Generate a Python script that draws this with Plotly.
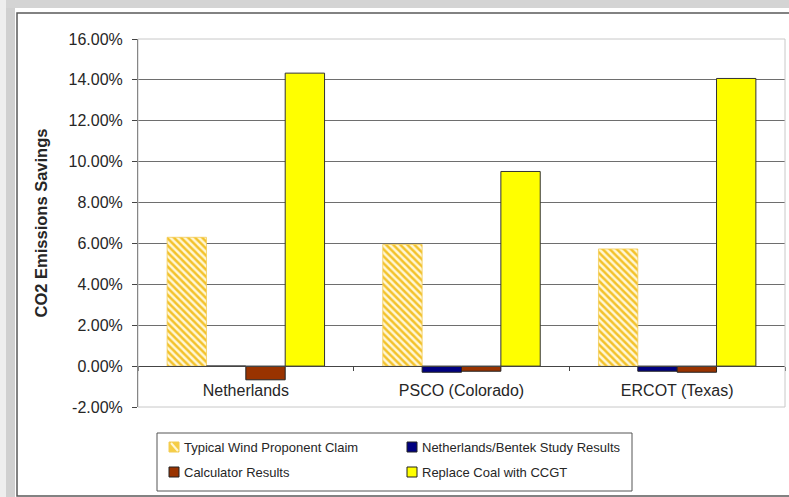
import plotly.graph_objects as go

# Data: CO2 emissions savings (%) by grid region and scenario
regions = ["Netherlands", "PSCO (Colorado)", "ERCOT (Texas)"]
wind_claim = [6.3, 5.95, 5.73]
bentek_study = [0.0, -0.3, -0.25]
calculator = [-0.67, -0.25, -0.3]
coal_to_ccgt = [14.33, 9.52, 14.07]

series_names = [
    "Typical Wind Proponent Claim",
    "Netherlands/Bentek Study Results",
    "Calculator Results",
    "Replace Coal with CCGT",
]
y_ticks = [-2, 0, 2, 4, 6, 8, 10, 12, 14, 16]
y_tick_text = [f"{v:.2f}%" for v in y_ticks]
y_title = "CO2 Emissions Savings"

# Canvas geometry
W, H = 789, 497
ML, MR, MT, MB = 138, 4, 39, 90
PW, PH = W - ML - MR, H - MT - MB
Y_MIN, Y_MAX = -2, 16

FONT = "Arial, Liberation Sans, sans-serif"
TXT = "#262626"


def px_x(px):
    return (px - ML) / PW


def px_y(py):
    return (H - MB - py) / PH


fig = go.Figure()
fig.add_bar(
    name=series_names[0], x=regions, y=wind_claim,
    marker=dict(color="#FFF7D6",
                pattern=dict(shape="\\", fgcolor="#F3C22B", bgcolor="#FFF7D6",
                             size=5, solidity=0.5, fillmode="replace"),
                line=dict(color="#F2CC55", width=0.8)),
)
fig.add_bar(
    name=series_names[1], x=regions, y=bentek_study,
    marker=dict(color="#000080", line=dict(color="#222222", width=1)),
)
fig.add_bar(
    name=series_names[2], x=regions, y=calculator,
    marker=dict(color="#993300", line=dict(color="#222222", width=1)),
)
fig.add_bar(
    name=series_names[3], x=regions, y=coal_to_ccgt,
    marker=dict(color="#FFFF00", line=dict(color="#333333", width=1)),
)

shapes = []
# outer chart frame with soft shadow on the top and left
shapes.append(dict(type="rect", xref="paper", yref="paper",
                   x0=px_x(0), x1=px_x(W + 5), y0=px_y(0), y1=px_y(8),
                   fillcolor="#D4D4D4", line=dict(width=0), layer="below"))
shapes.append(dict(type="rect", xref="paper", yref="paper",
                   x0=px_x(0), x1=px_x(6), y0=px_y(H + 5), y1=px_y(0),
                   fillcolor="#EEEEEE", line=dict(width=0), layer="below"))
shapes.append(dict(type="rect", xref="paper", yref="paper",
                   x0=px_x(6), x1=px_x(15), y0=px_y(H + 5), y1=px_y(8),
                   fillcolor="#D0D0D0", line=dict(width=0), layer="below"))
shapes.append(dict(type="rect", xref="paper", yref="paper",
                   x0=px_x(17), x1=px_x(W + 5), y0=px_y(H - 1), y1=px_y(13),
                   fillcolor="white", line=dict(color="#5A5A5A", width=1.5),
                   layer="below"))
# plot-area border
shapes.append(dict(type="rect", xref="paper", yref="paper",
                   x0=0, x1=1, y0=0, y1=1,
                   line=dict(color="#C8C8C8", width=1), layer="above"))

# legend box
LX0, LX1, LY0, LY1 = 157, 632, 433, 491
shapes.append(dict(type="rect", xref="paper", yref="paper",
                   x0=px_x(LX0), x1=px_x(LX1), y0=px_y(LY1), y1=px_y(LY0),
                   fillcolor="white", line=dict(color="#555555", width=1)))

legend_rows = [447, 472]
legend_cols = [(169, 182), (407, 420)]
swatch_fill = ["#F6CD45", "#000080", "#993300", "#FFFF00"]
annotations = []
for i, name in enumerate(series_names):
    r, c = divmod(i, 2)
    sx, tx = legend_cols[c]
    cy = legend_rows[r]
    shapes.append(dict(type="rect", xref="paper", yref="paper",
                       x0=px_x(sx), x1=px_x(sx + 10),
                       y0=px_y(cy + 5), y1=px_y(cy - 5),
                       fillcolor=swatch_fill[i],
                       line=dict(color="#F2CC55" if i == 0 else "#222222",
                                 width=1)))
    if i == 0:
        shapes.append(dict(type="line", xref="paper", yref="paper",
                           x0=px_x(sx + 2), x1=px_x(sx + 9),
                           y0=px_y(cy - 4), y1=px_y(cy + 4),
                           line=dict(color="#FFF7D6", width=2)))
    annotations.append(dict(xref="paper", yref="paper",
                            x=px_x(tx), y=px_y(cy), text=name,
                            showarrow=False, xanchor="left", yanchor="middle",
                            font=dict(family=FONT, size=13, color=TXT)))

fig.update_layout(
    width=W, height=H,
    margin=dict(l=ML, r=MR, t=MT, b=MB),
    paper_bgcolor="white", plot_bgcolor="white",
    barmode="group", bargap=0.27, bargroupgap=0,
    showlegend=False,
    font=dict(family=FONT, color=TXT),
    shapes=shapes,
    annotations=annotations,
    xaxis=dict(
        anchor="free",
        position=(0 - Y_MIN) / (Y_MAX - Y_MIN),
        showline=True, linecolor="#444444", linewidth=1,
        ticks="outside", ticklen=4, tickcolor="#444444",
        tickson="boundaries",
        ticklabelstandoff=10,
        tickfont=dict(size=16, color=TXT),
        showgrid=False, zeroline=False,
    ),
    yaxis=dict(
        range=[Y_MIN, Y_MAX],
        tickmode="array",
        tickvals=y_ticks,
        ticktext=y_tick_text,
        tickfont=dict(size=16, color=TXT),
        ticklabelstandoff=6,
        showline=True, linecolor="#444444", linewidth=1,
        ticks="outside", ticklen=5, tickcolor="#444444",
        showgrid=True, gridcolor="#6E6E6E", gridwidth=1,
        zeroline=False,
        title=dict(text="<b>" + y_title + "</b>", standoff=16,
                   font=dict(size=16.5, color=TXT)),
    ),
)

fig.write_html("out.html")
